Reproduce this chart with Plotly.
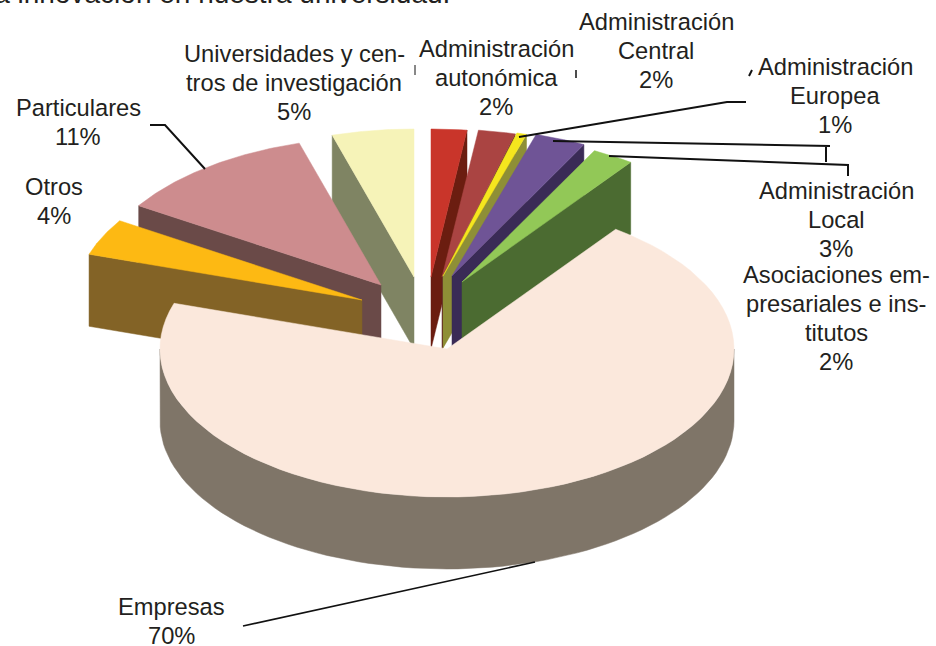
import math
import plotly.graph_objects as go

# ---- data ----
names = ["Administración<br>autonómica", "Administración<br>Central", "Administración<br>Europea",
         "Administración<br>Local", "Asociaciones em-<br>presariales e ins-<br>titutos", "Empresas",
         "Otros", "Particulares", "Universidades y cen-<br>tros de investigación"]
values = [2.0, 2.1, 0.6, 2.9, 2.4, 70, 4, 11.4, 4.6]

# ---- style / layout ----
top_colors = ["#C9352A", "#AA4442", "#F5E61E", "#6F5496", "#92C857", "#FBE8DC", "#FDB913", "#CD8C8E", "#F6F3B8"]
side_colors = ["#6B1D10", "#5E2120", "#8E8F36", "#3A2B56", "#4B6B31", "#7F7568", "#836326", "#6A4A48", "#7F8463"]
base_x, base_y = 425, 309
explode_x = [6, 17, 18, 27, 37, 22, -63, -44, -11]
explode_y = [-32, -32, -33, -33, -27, 40, -9, -24, -32]
label_pos = [(496, 78), (656, 51), (835, 96), (836, 220), (836, 318), (171, 621), (54, 201), (78, 122), (294, 83)]
draw_order = [8, 7, 6, 0, 1, 2, 3, 4, 5]
RX, RY, DEPTH = 287, 148, 72
LINE_H = 29
FONT = "Liberation Sans, Arial, sans-serif"

total = sum(values)
starts, cum = [], 0.0
for v in values:
    starts.append(cum / total * 2 * math.pi)
    cum += v


def rim(cx, cy, a0, a1, n=80):
    pts = [a0 + (a1 - a0) * i / n for i in range(n + 1)]
    return [cx + RX * math.sin(a) for a in pts], [cy - RY * math.cos(a) for a in pts]


fig = go.Figure()


def poly(xs, ys, color, name):
    fig.add_trace(go.Scatter(x=xs + xs[:1], y=ys + ys[:1], mode="lines", fill="toself", fillcolor=color,
                             line=dict(color=color, width=0.5), hoverinfo="text", text=name, showlegend=False))


for i in draw_order:
    a0 = starts[i]
    a1 = a0 + values[i] / total * 2 * math.pi
    cx, cy = base_x + explode_x[i], base_y + explode_y[i]
    name = names[i].replace("<br>", " ")
    ax, ay = rim(cx, cy, a0, a1)
    if i == 5:  # large slice: outer wall on the lower half
        wx, wy = rim(cx, cy, math.pi / 2, 1.5 * math.pi)
        poly(wx + wx[::-1], wy + [y + DEPTH for y in wy[::-1]], side_colors[i], name)
    else:
        # visible cut face: clockwise edge on the right side, anticlockwise edge on the left
        ex, ey = (ax[-1], ay[-1]) if a1 <= math.pi else (ax[0], ay[0])
        poly([cx, ex, ex, cx], [cy, ey, ey + DEPTH, cy + DEPTH], side_colors[i], name)
    poly([cx] + ax, [cy] + ay, top_colors[i], name)

annotations = []
for n, v, (lx, ly) in zip(names, values, label_pos):
    lines = n.split("<br>") + [f"{round(v)}%"]
    for k, line in enumerate(lines):
        annotations.append(dict(x=lx, y=ly + (k - (len(lines) - 1) / 2) * LINE_H, xref="x", yref="y", text=line,
                                showarrow=False, xanchor="center", yanchor="middle",
                                font=dict(family=FONT, size=23.7, color="#231F20")))
annotations.append(dict(x=452, y=11, xref="x", yref="y", text="la innovación en nuestra universidad.", showarrow=False,
                        xanchor="right", yanchor="bottom", font=dict(family=FONT, size=28, color="#231F20")))

leaders = [
    ([150, 165, 205], [125, 125, 169], 2),
    ([519, 727, 746], [137, 102, 102], 2),
    ([553, 755, 830], [141, 145, 146], 2),
    ([826, 826], [147, 162], 2),
    ([609, 848, 848], [156, 165, 176], 2),
    ([243, 535], [626, 562], 1.6),
    ([576, 576], [70, 78], 1.5),
    ([415, 415], [65, 75], 1),
    ([749, 752], [76, 70], 2),
]
for lx, ly, w in leaders:
    fig.add_trace(go.Scatter(x=lx, y=ly, mode="lines", line=dict(color="#111111", width=w),
                             hoverinfo="skip", showlegend=False))

fig.update_layout(
    width=936, height=646, margin=dict(l=0, r=0, t=0, b=0), paper_bgcolor="white", plot_bgcolor="white",
    xaxis=dict(range=[0, 936], visible=False, fixedrange=True),
    yaxis=dict(range=[646, 0], visible=False, fixedrange=True),
    annotations=annotations, showlegend=False,
)
fig.write_html("out.html", config=dict(displayModeBar=False),
               post_script="document.body.style.margin='0';document.documentElement.style.overflow='hidden';")
